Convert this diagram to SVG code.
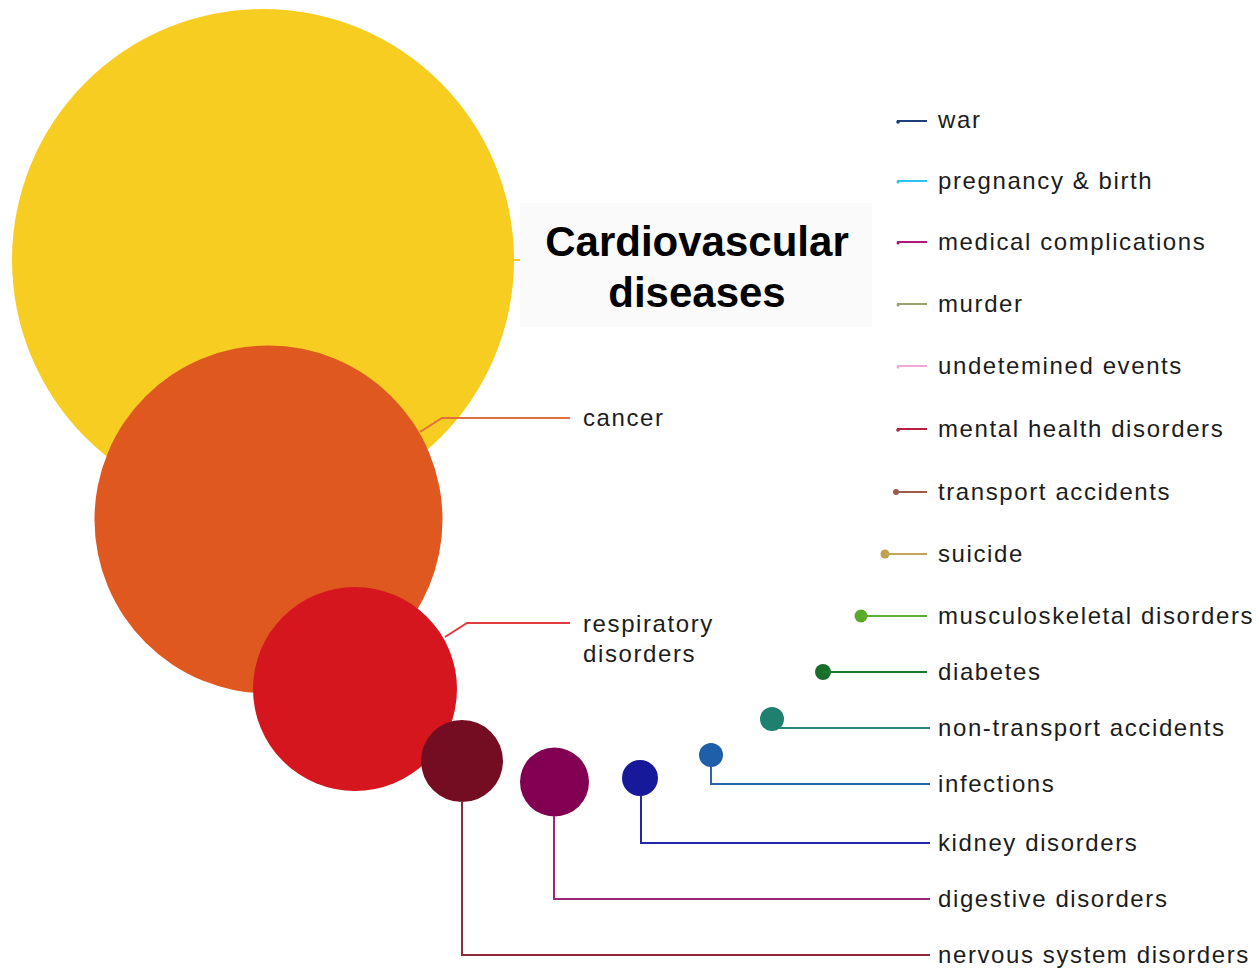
<svg xmlns="http://www.w3.org/2000/svg" width="1259" height="972" viewBox="0 0 1259 972">
<style>
.lbl{font-family:"Liberation Sans",Arial,sans-serif;font-size:24px;letter-spacing:1.6px;fill:#1c1c1c}
.title{font-family:"Liberation Sans",Arial,sans-serif;font-size:42px;font-weight:bold;fill:#000;text-anchor:middle}
.c{fill:none;stroke-width:2}
</style>
<rect width="1259" height="972" fill="#ffffff"/>
<g id="n-cardio"><circle cx="263" cy="260" r="251" fill="#f8cd22"/></g>
<g id="n-cancer"><circle cx="268.5" cy="519.5" r="174" fill="#de5820"/></g>
<g id="n-resp"><circle cx="355" cy="689" r="102" fill="#d5161e"/></g>
<g id="n-nervous"><circle cx="462" cy="761" r="41" fill="#740c22"/></g>
<g id="n-digestive"><circle cx="554.5" cy="782" r="34.5" fill="#810052"/></g>
<g id="n-kidney"><circle cx="640" cy="778" r="18" fill="#16199a"/></g>
<g id="n-infections"><circle cx="711" cy="755" r="12" fill="#1f5ea8"/></g>
<g id="n-nontransport"><circle cx="772" cy="719" r="12" fill="#1f8070"/></g>
<g id="n-diabetes"><circle cx="823" cy="672" r="8" fill="#1a6e2c"/></g>
<g id="n-musculo"><circle cx="861" cy="616" r="6.5" fill="#5aaa2a"/></g>
<g id="n-suicide"><circle cx="885" cy="554" r="4.5" fill="#c0a050"/></g>
<g id="n-transport"><circle cx="896" cy="492" r="3" fill="#9a5a4a"/></g>
<g id="n-mental"><circle cx="898" cy="430" r="1.8" fill="#b02040"/></g>
<g id="n-undetermined"><circle cx="898" cy="367" r="1.5" fill="#f5a8d5"/></g>
<g id="n-murder"><circle cx="898" cy="305" r="1.5" fill="#909a6a"/></g>
<g id="n-medical"><circle cx="898" cy="243" r="1.5" fill="#a0106a"/></g>
<g id="n-pregnancy"><circle cx="898" cy="182" r="1.5" fill="#30c0f0"/></g>
<g id="n-war"><circle cx="898" cy="122" r="1.8" fill="#1a3a7a"/></g>
<g id="connectors">
<line class="c" x1="514" y1="260" x2="521" y2="260" stroke="#f5c518"/>
<polyline class="c" points="420,432 442,418 570,418" stroke="#e2703f"/>
<polyline class="c" points="445,637 467,623 570,623" stroke="#e23a3e"/>
<line class="c" x1="897" y1="121" x2="927" y2="121" stroke="#1f3f7a"/>
<line class="c" x1="897" y1="181" x2="927" y2="181" stroke="#2ec4f0"/>
<line class="c" x1="897" y1="242" x2="927" y2="242" stroke="#b0187a"/>
<line class="c" x1="897" y1="304" x2="927" y2="304" stroke="#9aa070"/>
<line class="c" x1="897" y1="366" x2="927" y2="366" stroke="#f5a8d5"/>
<line class="c" x1="897" y1="429" x2="927" y2="429" stroke="#b82040"/>
<line class="c" x1="895" y1="492" x2="927" y2="492" stroke="#9c5a48"/>
<line class="c" x1="885" y1="554" x2="927" y2="554" stroke="#c4a658"/>
<line class="c" x1="861" y1="616" x2="927" y2="616" stroke="#5cb030"/>
<line class="c" x1="823" y1="672" x2="927" y2="672" stroke="#1e7a2e"/>
<polyline class="c" points="779,728 930,728" stroke="#23877a"/>
<polyline class="c" points="711,766 711,784 930,784" stroke="#2a64ae"/>
<polyline class="c" points="641,795 641,843 930,843" stroke="#2226a8"/>
<polyline class="c" points="554,816 554,899 930,899" stroke="#9a2a78"/>
<polyline class="c" points="462,801 462,955 930,955" stroke="#8a2a3a"/>
</g>
<g id="title">
<rect x="520" y="203" width="352" height="124" fill="#fafafa"/>
<text class="title" x="697" y="256">Cardiovascular</text>
<text class="title" x="697" y="307">diseases</text>
</g>
<g id="labels">
<text class="lbl" x="583" y="426">cancer</text>
<text class="lbl" x="583" y="632">respiratory</text>
<text class="lbl" x="583" y="662">disorders</text>
<text class="lbl" x="938" y="128">war</text>
<text class="lbl" x="938" y="189">pregnancy &amp; birth</text>
<text class="lbl" x="938" y="250">medical complications</text>
<text class="lbl" x="938" y="312">murder</text>
<text class="lbl" x="938" y="374">undetemined events</text>
<text class="lbl" x="938" y="437">mental health disorders</text>
<text class="lbl" x="938" y="500">transport accidents</text>
<text class="lbl" x="938" y="562">suicide</text>
<text class="lbl" x="938" y="624">musculoskeletal disorders</text>
<text class="lbl" x="938" y="680">diabetes</text>
<text class="lbl" x="938" y="736">non-transport accidents</text>
<text class="lbl" x="938" y="792">infections</text>
<text class="lbl" x="938" y="851">kidney disorders</text>
<text class="lbl" x="938" y="907">digestive disorders</text>
<text class="lbl" x="938" y="963">nervous system disorders</text>
</g>
</svg>
